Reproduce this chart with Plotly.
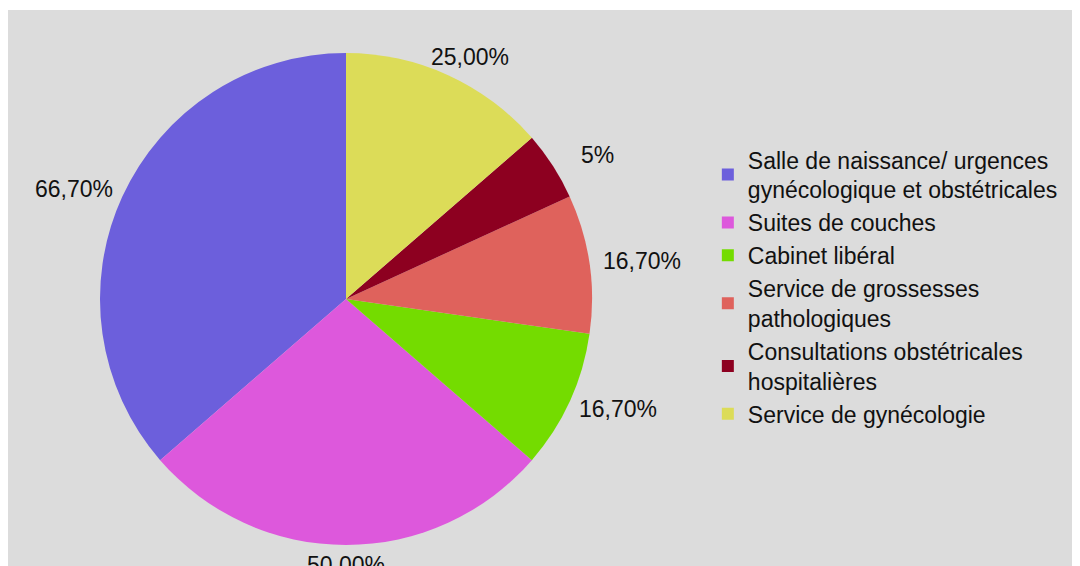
import math
import plotly.graph_objects as go

labels = [
    "Salle de naissance/ urgences<br>gynécologique et obstétricales",
    "Suites de couches",
    "Cabinet libéral",
    "Service de grossesses<br>pathologiques",
    "Consultations obstétricales<br>hospitalières",
    "Service de gynécologie",
]
# slice sizes as drawn in the reference (the "5%" slice is drawn larger)
values = [66.7, 50.0, 16.7, 16.7, 8.3, 25.0]
pct_text = ["66,70%", "50,00%", "16,70%", "16,70%", "5%", "25,00%"]
colors = ["#6c5fdc", "#dd58dc", "#74dc00", "#df625c", "#8d0020", "#dcdc58"]

W, H = 1080, 566
cx, cy, R = 338, 291, 246  # pie centre / radius in figure px

dom_x = [(cx - R) / W, (cx + R) / W]
dom_y = [1 - (cy + R) / H, 1 - (cy - R) / H]

total = sum(values)
first_angle = values[0] / total * 360.0

fig = go.Figure()
fig.add_trace(go.Pie(
    labels=labels, values=values, sort=False, direction="counterclockwise",
    rotation=-first_angle, marker=dict(colors=colors, line=dict(width=0)),
    textinfo="none", hoverinfo="label",
    domain=dict(x=dom_x, y=dom_y),
))

# outside percentage labels derived from slice angles (ccw from 12 o'clock)
cum = 0.0
annotations = []
for v, t in zip(values, pct_text):
    mid = (cum + v / 2) / total * 2 * math.pi
    cum += v
    dx = -math.sin(mid)
    dy = math.cos(mid)  # up
    gap = 10
    hw, hh = 43, 10
    px = cx + dx * (R + gap + hw)
    py = cy - dy * (R + gap + hh)
    annotations.append(dict(
        x=px / W, y=1 - py / H, xref="paper", yref="paper",
        text=t, showarrow=False, xanchor="center", yanchor="middle",
        font=dict(size=23, color="#111111", family="Liberation Sans, Arial"),
    ))

fig.update_layout(
    width=W, height=H,
    margin=dict(l=0, r=0, t=0, b=0),
    paper_bgcolor="#dcdcdc",
    font=dict(family="Liberation Sans, Arial", size=23, color="#111111"),
    annotations=annotations,
    legend=dict(x=0.648, y=0.77, xanchor="left", yanchor="top",
                bgcolor="rgba(0,0,0,0)", font=dict(size=23),
                itemwidth=30, tracegroupgap=0),
    shapes=[
        dict(type="rect", xref="paper", yref="paper", x0=0, x1=1,
             y0=1 - 2 / H, y1=1, fillcolor="white", line=dict(width=0), layer="above"),
    ],
)

fig.write_html("out.html")
